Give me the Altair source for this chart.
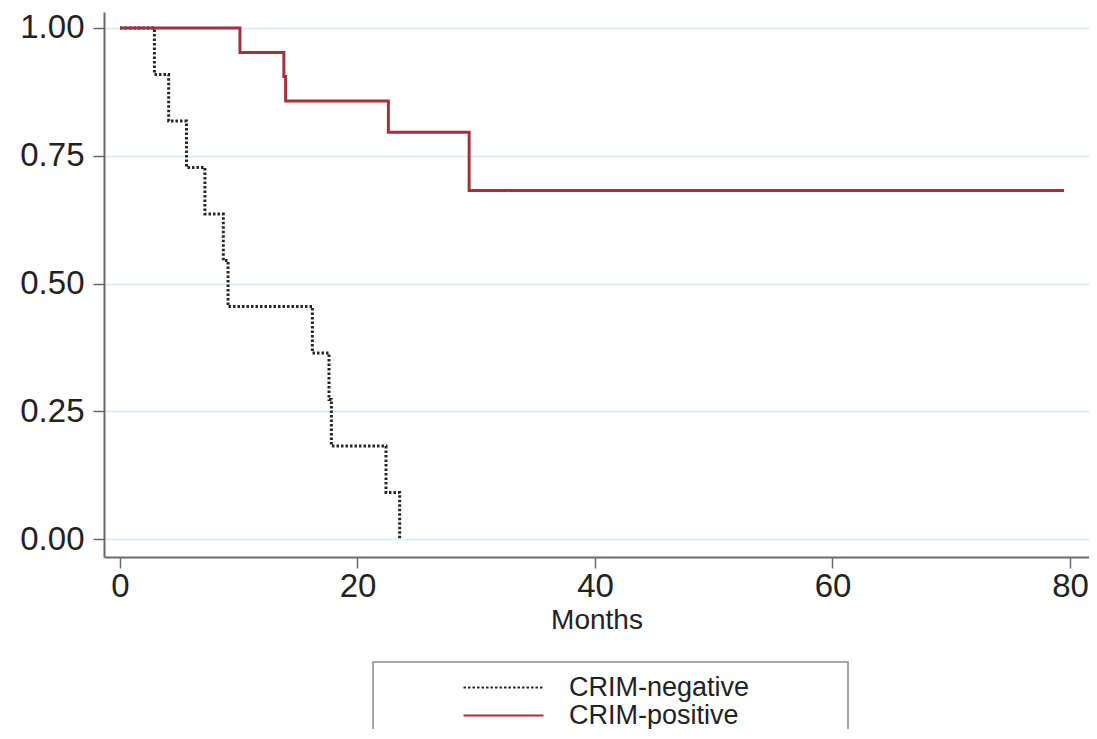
import altair as alt
import pandas as pd

# Kaplan-Meier estimates
neg_months = [0, 2.9, 4.1, 5.6, 7.15, 8.7, 9.1, 16.2, 17.6, 17.8, 22.4, 23.55]
neg_surv = [1.0, 0.909, 0.818, 0.727, 0.636, 0.545, 0.455, 0.364, 0.273, 0.182, 0.091, 0.0]
pos_months = [0, 10.1, 13.8, 13.95, 22.6, 29.4, 79.5]
pos_surv = [1.0, 0.952, 0.905, 0.857, 0.796, 0.682, 0.682]
groups = ["CRIM-negative", "CRIM-positive"]
y_ticks = [0, 0.25, 0.5, 0.75, 1.0]
x_ticks = [0, 20, 40, 60, 80]

df = pd.concat([
    pd.DataFrame({"Months": neg_months, "Survival": neg_surv, "group": groups[0]}),
    pd.DataFrame({"Months": pos_months, "Survival": pos_surv, "group": groups[1]}),
], ignore_index=True)

FONT = "Liberation Sans"
legend = alt.Legend(
    title=None, orient="none", legendX=386, legendY=662,
    symbolType="M-4,0H4", symbolSize=400, symbolStrokeWidth=2,
    labelFontSize=27, labelOffset=52, rowPadding=0, padding=0, labelLimit=600,
    labelFont=FONT, labelColor="#222222",
)
xs = alt.X("Months:Q", scale=alt.Scale(domain=[-1.347, 81.6], nice=False, zero=False),
           axis=alt.Axis(values=x_ticks, title="Months", grid=False, format="d",
                         labelFontSize=33, labelPadding=2, tickSize=11,
                         titleFontSize=28, titleFontWeight="normal", titlePadding=3))
ys = alt.Y("Survival:Q", scale=alt.Scale(domain=[-0.0352, 1.0313], nice=False, zero=False),
           axis=alt.Axis(values=y_ticks, title=None, format=".2f", grid=True,
                         gridColor="#d5eef4", gridWidth=1.5,
                         labelFontSize=33, labelPadding=9, tickSize=11))
color = alt.Color("group:N", scale=alt.Scale(domain=groups, range=["#262626", "#a3303c"]), legend=legend)
dash = alt.StrokeDash("group:N", scale=alt.Scale(domain=groups, range=[[2.5, 2], [1, 0]]), legend=legend)

neg = alt.Chart(df).transform_filter(alt.datum.group == groups[0]).mark_line(
    interpolate="step-after", strokeWidth=3).encode(x=xs, y=ys, color=color, strokeDash=dash)
pos = alt.Chart(df).transform_filter(alt.datum.group == groups[1]).mark_line(
    interpolate="step-after", strokeWidth=3).encode(x=xs, y=ys, color=color, strokeDash=dash)

box = alt.Chart(alt.Data(values=[{}])).mark_rect(fill=None, stroke="#8a8a8a", strokeWidth=1.5).encode(
    x=alt.value(269), x2=alt.value(744), y=alt.value(650), y2=alt.value(760))

chart = alt.layer(neg, pos, box).properties(
    width=985, height=545,
    autosize=alt.AutoSizeParams(type="none"),
    padding={"left": 96, "top": 4, "right": 0, "bottom": 172},
).configure_view(stroke=None).configure_axis(
    labelFont=FONT, titleFont=FONT, labelColor="#222222", titleColor="#222222",
    domainColor="#6a6a6a", domainWidth=2, tickColor="#6a6a6a", tickWidth=1.5,
)

chart.save("out.html", embed_options={"renderer": "svg", "actions": False})
